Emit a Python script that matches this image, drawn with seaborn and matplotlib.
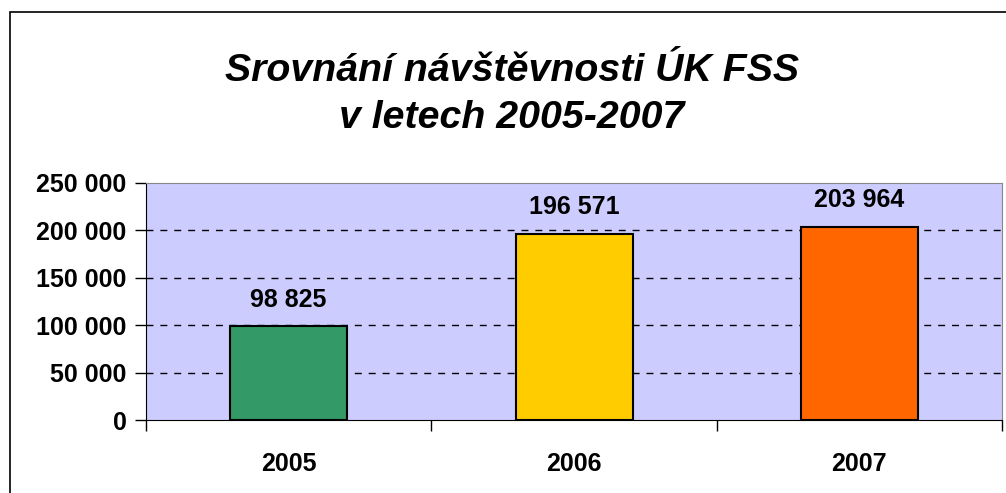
# bar chart of visits per year, seaborn version

import matplotlib.pyplot as plt
import matplotlib.patches as mpatches
import pandas as pd
import seaborn as sns

years = ['2005', '2006', '2007']
visits = [98825, 196571, 203964]
bar_colors = ['#339966', '#FFCC00', '#FF6600']

df = pd.DataFrame({'rok': years, 'navstevnost': visits})

plt.rcParams['font.family'] = ['Liberation Sans', 'DejaVu Sans']

fig = plt.figure(figsize=(10.06, 4.93), dpi=100)
ax = fig.add_axes([0.1451, 0.148, 0.851, 0.481])

# outer frame of the chart (runs off the right and bottom edge)
fig.patches.append(mpatches.Rectangle((10 / 1006, -0.1), 1.2, 1 - 12 / 493 + 0.1,
                                      transform=fig.transFigure, fill=False,
                                      edgecolor='black', linewidth=1.2))

sns.barplot(data=df, x='rok', y='navstevnost', hue='rok', palette=bar_colors,
            saturation=1, width=0.41, edgecolor='black', linewidth=1.5,
            legend=False, ax=ax)

ax.set_facecolor('#CCCCFF')
ax.set_xlim(-0.5, 2.5)
ax.set_ylim(0, 250000)
ax.set_yticks(range(0, 250001, 50000))
ax.set_yticklabels([f'{v:,}'.replace(',', ' ') for v in range(0, 250001, 50000)],
                   fontsize=18, fontweight='bold')
ax.set_xticks(range(3))
ax.set_xticklabels(years, fontsize=18, fontweight='bold')
ax.tick_params(axis='x', length=0, pad=23)
ax.tick_params(axis='y', length=8, width=1, pad=6)
ax.set_xticks([-0.5, 0.5, 1.5, 2.5], minor=True)
ax.tick_params(axis='x', which='minor', length=8, width=1)
ax.set_xlabel('')
ax.set_ylabel('')

for y in range(50000, 250000, 50000):
    ax.axhline(y, color='black', linestyle=(0, (5, 5)), linewidth=1, zorder=0.5)

for s in ['top', 'right']:
    ax.spines[s].set_color('#888888')
for s in ['left', 'bottom']:
    ax.spines[s].set_color('black')

for i, v in enumerate(visits):
    ax.text(i, v + 15000, f'{v:,}'.replace(',', ' '), ha='center', va='bottom',
            fontsize=18, fontweight='bold')

fig.text(0.509, 0.856, 'Srovnání návštěvnosti ÚK FSS', ha='center', va='center',
         fontsize=28.3, fontweight='bold', fontstyle='italic')
fig.text(0.509, 0.76, 'v letech 2005-2007', ha='center', va='center',
         fontsize=28.3, fontweight='bold', fontstyle='italic')

fig.savefig('out.png', dpi=100)
